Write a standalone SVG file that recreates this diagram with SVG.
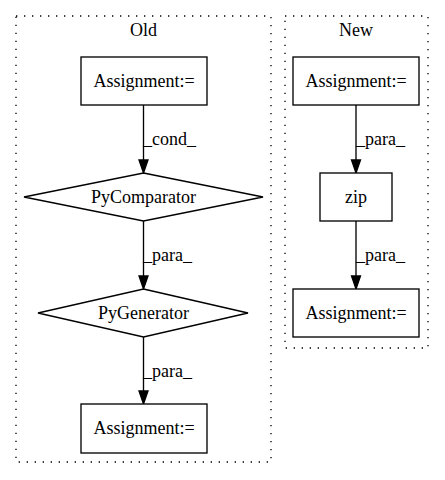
<svg xmlns="http://www.w3.org/2000/svg" width="445" height="480" viewBox="0 0 445 480">
<style>
text{font-family:"Liberation Serif","Times New Roman",serif;font-size:18px;fill:#000}
.c{text-anchor:middle}
.cl{fill:none;stroke:#000;stroke-width:1.33;stroke-dasharray:1.33,6.67}
.n{fill:#fff;stroke:#000;stroke-width:1.33}
.e{fill:none;stroke:#000;stroke-width:1.33}
.a{fill:#000;stroke:#000;stroke-width:1.33}
</style>
<rect width="445" height="480" fill="#fff"/>
<g id="cluster_old">
<rect class="cl" x="16" y="16" width="255" height="446"/>
<text class="c" x="143.5" y="36">Old</text>
</g>
<g id="cluster_new">
<rect class="cl" x="285" y="16" width="143" height="332"/>
<text class="c" x="356" y="36">New</text>
</g>
<g id="edges">
<path class="e" d="M143.5,105V160"/><polygon class="a" points="139,160 148,160 143.5,173"/>
<text x="143" y="145">_cond_</text>
<path class="e" d="M143.5,221V276"/><polygon class="a" points="139,276 148,276 143.5,289"/>
<text x="143" y="261">_para_</text>
<path class="e" d="M143.5,337V391"/><polygon class="a" points="139,391 148,391 143.5,404"/>
<text x="143" y="377">_para_</text>
<path class="e" d="M356,105V160"/><polygon class="a" points="351.5,160 360.5,160 356,173"/>
<text x="356" y="145">_para_</text>
<path class="e" d="M356,221V276"/><polygon class="a" points="351.5,276 360.5,276 356,289"/>
<text x="356" y="261">_para_</text>
</g>
<g id="old_assign1">
<rect class="n" x="81" y="57" width="126" height="48"/>
<text class="c" x="144" y="87">Assignment:=</text>
</g>
<g id="old_pycomparator">
<polygon class="n" points="143.5,173 263,197 143.5,221 24,197"/>
<text class="c" x="143.5" y="203">PyComparator</text>
</g>
<g id="old_pygenerator">
<polygon class="n" points="143.5,289 248,313 143.5,337 38,313"/>
<text class="c" x="143.5" y="319">PyGenerator</text>
</g>
<g id="old_assign2">
<rect class="n" x="81" y="404" width="126" height="49"/>
<text class="c" x="144" y="434">Assignment:=</text>
</g>
<g id="new_assign1">
<rect class="n" x="293" y="57" width="126" height="48"/>
<text class="c" x="356" y="87">Assignment:=</text>
</g>
<g id="new_zip">
<rect class="n" x="320" y="173" width="72" height="48"/>
<text class="c" x="356" y="203">zip</text>
</g>
<g id="new_assign2">
<rect class="n" x="293" y="289" width="126" height="48"/>
<text class="c" x="356" y="319">Assignment:=</text>
</g>
</svg>
